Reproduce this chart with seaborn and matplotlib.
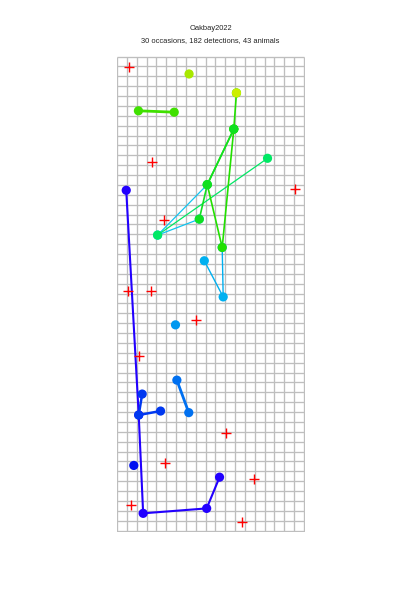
import numpy as np
import pandas as pd
import matplotlib
matplotlib.use("Agg")
import matplotlib.pyplot as plt
import seaborn as sns

# ---- data (grid units: one cell = 1) ----
n_cols = 19
n_rows = 48

trap_x = [1.19, 3.56, 18.13, 4.80, 1.06, 3.41, 8.00, 2.20, 11.09, 4.83, 13.89, 1.39, 12.71]
trap_y = [46.92, 37.32, 34.60, 31.46, 24.26, 24.26, 21.36, 17.63, 9.85, 6.79, 5.17, 2.55, 0.89]

animal_ids = ["B3", "B4", "B2", "B1", "C3", "C2", "C1", "G3", "G1", "G2", "Y1", "L1", "Y2"]
animal_colors = ["#2200ff", "#0010f0", "#0038f0", "#0070f0", "#0098f0", "#00b0f0", "#10c4f0",
                 "#00e864", "#22e000", "#10e020", "#ccee00", "#40e000", "#a8e800"]
animal_lw = [1.5, 1.0, 1.8, 2.0, 1.0, 1.0, 0.9, 0.9, 1.2, 1.2, 1.5, 2.0, 1.0]
animal_x = [
    [0.93, 2.20, 2.65, 9.11, 10.42],
    [1.70],
    [2.55, 2.20, 4.42],
    [6.08, 7.29],
    [5.94],
    [8.87, 10.79, 10.69],
    [9.17, 4.12, 8.36],
    [15.30, 4.12],
    [12.14, 11.87, 9.17, 10.69, 11.87],
    [11.87, 9.17, 8.36],
    [12.14],
    [2.17, 5.81],
    [7.32],
]
animal_y = [
    [34.46, 11.70, 1.74, 2.24, 5.40],
    [6.59],
    [13.82, 11.70, 12.10],
    [15.23, 11.94],
    [20.83],
    [27.32, 23.66, 28.67],
    [35.03, 29.92, 31.54],
    [37.70, 29.92],
    [44.32, 40.66, 35.03, 28.67, 40.66],
    [40.66, 35.03, 31.54],
    [44.32],
    [42.51, 42.37],
    [46.24],
]

title = "Oakbay2022"
subtitle = "30 occasions, 182 detections, 43 animals"

# ---- build tables ----
rows = []
for aid, xs, ys in zip(animal_ids, animal_x, animal_y):
    for i, (xv, yv) in enumerate(zip(xs, ys)):
        rows.append({"animal": aid, "seq": i, "x": xv, "y": yv})
det = pd.DataFrame(rows)
palette = dict(zip(animal_ids, animal_colors))
traps = pd.DataFrame({"x": trap_x, "y": trap_y})

# ---- figure ----
sns.set_style("white")
plt.rcParams["font.family"] = ["Liberation Sans", "DejaVu Sans"]
fig = plt.figure(figsize=(4, 6), dpi=100)
ax = fig.add_axes([116.5 / 400, 1 - 531.5 / 600, 188 / 400, 475.5 / 600])
ax.set_xlim(-0.06, n_cols + 0.06)
ax.set_ylim(-0.1, n_rows + 0.06)
ax.set_axis_off()

grid_c = "#bebebe"
ax.vlines(np.arange(n_cols + 1), -0.1, n_rows, color=grid_c, lw=0.95, zorder=1)
ax.hlines(np.arange(n_rows + 1), 0, n_cols, color=grid_c, lw=0.95, zorder=1)

# tracks
for aid, col, lw in zip(animal_ids, animal_colors, animal_lw):
    sub = det[det["animal"] == aid]
    if len(sub) > 1:
        sns.lineplot(data=sub, x="x", y="y", sort=False, estimator=None,
                     color=col, lw=lw, ax=ax, zorder=2)

# detections
sns.scatterplot(data=det, x="x", y="y", hue="animal", palette=palette,
                s=44, linewidth=0, legend=False, ax=ax, zorder=3)

# traps
sns.scatterplot(data=traps, x="x", y="y", marker="+", color="#ff0000",
                edgecolor="#ff0000", s=45, linewidth=1.0, legend=False, ax=ax, zorder=4)

ax.set_xlabel("")
ax.set_ylabel("")

fig.text(210.5 / 400, 1 - 29 / 600, title, ha="center", va="center",
         fontsize=5.4, color="#222222")
fig.text(210.5 / 400, 1 - 40.5 / 600, subtitle, ha="center", va="center",
         fontsize=5.4, color="#222222")

fig.savefig("out.png", dpi=100)
